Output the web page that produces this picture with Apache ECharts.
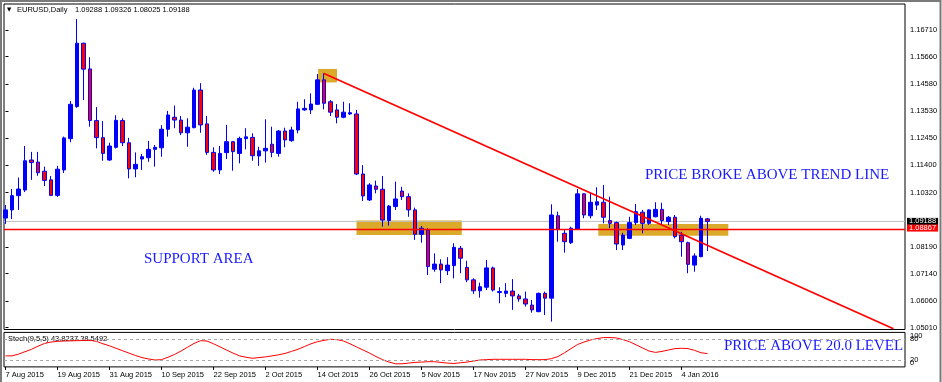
<!DOCTYPE html>
<html><head><meta charset="utf-8">
<script src="https://cdn.jsdelivr.net/npm/echarts@6/dist/echarts.min.js"></script>
<style>html,body{margin:0;padding:0;background:#fff}#c{width:942px;height:382px}</style>
</head><body><div id="c"></div>
<script>
// ---- data (EURUSD daily) ----
const opens = [1.0932,1.0964,1.1020,1.1042,1.1160,1.1152,1.1116,1.1082,1.1021,1.1121,
1.1244,1.1370,1.1619,1.1518,1.1315,1.1248,1.1160,1.1210,1.1315,1.1228,
1.1125,1.1164,1.1169,1.1202,1.1208,1.1281,1.1328,1.1317,1.1267,1.1287,
1.1435,1.1302,1.1190,1.1121,1.1189,1.1232,1.1186,1.1244,1.1249,1.1176,
1.1196,1.1222,1.1186,1.1274,1.1236,1.1278,1.1357,1.1357,1.1379,1.1475,
1.1389,1.1357,1.1328,1.1341,1.1341,1.1105,1.1003,1.1058,1.1045,1.0922,
1.0977,1.1038,1.1016,1.0964,1.0868,1.0885,1.0731,1.0751,1.0725,1.0745,
1.0813,1.0738,1.0689,1.0646,1.0660,1.0736,1.0639,1.0636,1.0645,1.0626,
1.0614,1.0590,1.0564,1.0636,1.0617,1.0941,1.0872,1.0835,1.0888,1.1027,
1.0941,1.0983,1.0994,1.0922,1.0914,1.0826,1.0852,1.0914,1.0955,1.0911,
1.0937,1.0966,1.0918,1.0935,1.0865,1.0835,1.0747,1.0780,1.09288];
const highs = [1.0983,1.1046,1.1091,1.1215,1.1192,1.1192,1.1134,1.1097,1.1137,1.1252,
1.1392,1.1714,1.1621,1.1564,1.1368,1.1313,1.1228,1.1336,1.1324,1.1247,
1.1190,1.1184,1.1235,1.1219,1.1297,1.1353,1.1374,1.1333,1.1324,1.1444,
1.1462,1.1333,1.1210,1.1215,1.1298,1.1235,1.1252,1.1285,1.1265,1.1212,
1.1320,1.1291,1.1278,1.1287,1.1291,1.1389,1.1399,1.1422,1.1498,1.1501,
1.1396,1.1380,1.1389,1.1383,1.1357,1.1140,1.1069,1.1079,1.1097,1.0983,
1.1075,1.1055,1.1029,1.0973,1.0901,1.0892,1.0793,1.0770,1.0778,1.0833,
1.0822,1.0764,1.0695,1.0678,1.0767,1.0741,1.0660,1.0676,1.0692,1.0634,
1.0643,1.0610,1.0639,1.0643,1.0986,1.0957,1.0888,1.0898,1.1046,1.1029,
1.1032,1.1053,1.1062,1.1016,1.0918,1.0874,1.0937,1.0987,1.0964,1.0966,
1.0994,1.0992,1.0940,1.0944,1.0878,1.0839,1.0793,1.0941,1.09326];
const lows = [1.0909,1.0928,1.0964,1.1034,1.1082,1.1098,1.1058,1.1019,1.1015,1.1109,
1.1230,1.1365,1.1396,1.1291,1.1206,1.1157,1.1157,1.1205,1.1215,1.1088,
1.1092,1.1121,1.1153,1.1134,1.1173,1.1252,1.1285,1.1258,1.1212,1.1285,
1.1267,1.1180,1.1114,1.1105,1.1164,1.1118,1.1147,1.1202,1.1157,1.1137,
1.1150,1.1171,1.1173,1.1210,1.1232,1.1265,1.1354,1.1341,1.1376,1.1359,
1.1333,1.1304,1.1324,1.1337,1.1101,1.0999,1.0999,1.1029,1.0898,1.0902,
1.0964,1.1003,1.0937,1.0846,1.0835,1.0708,1.0721,1.0676,1.0708,1.0695,
1.0715,1.0680,1.0634,1.0619,1.0649,1.0643,1.0597,1.0621,1.0571,1.0603,
1.0584,1.0560,1.0562,1.0551,1.0525,1.0839,1.0796,1.0830,1.0885,1.0931,
1.0931,1.0964,1.0911,1.0892,1.0806,1.0806,1.0849,1.0905,1.0872,1.0905,
1.0935,1.0905,1.0905,1.0852,1.0780,1.0715,1.0721,1.0778,1.08025];
const closes = [1.0964,1.1020,1.1046,1.1157,1.1150,1.1110,1.1080,1.1021,1.1124,1.1247,
1.1379,1.1619,1.1517,1.1315,1.1248,1.1186,1.1215,1.1316,1.1228,1.1125,
1.1143,1.1173,1.1202,1.1210,1.1281,1.1337,1.1317,1.1267,1.1289,1.1435,
1.1298,1.1190,1.1121,1.1186,1.1232,1.1193,1.1245,1.1251,1.1177,1.1196,
1.1206,1.1190,1.1274,1.1239,1.1278,1.1361,1.1363,1.1380,1.1475,1.1383,
1.1348,1.1328,1.1348,1.1346,1.1105,1.1019,1.1062,1.1045,1.0924,1.0979,
1.1007,1.1016,1.0964,1.0868,1.0892,1.0741,1.0751,1.0728,1.0747,1.0817,
1.0774,1.0689,1.0646,1.0662,1.0736,1.0649,1.0643,1.0645,1.0626,1.0614,
1.0594,1.0571,1.0636,1.0617,1.0944,1.0888,1.0839,1.0892,1.1027,1.0944,
1.0994,1.0996,1.0935,1.0911,1.0830,1.0865,1.0914,1.0957,1.0911,1.0964,
1.0966,1.0922,1.0935,1.0859,1.0839,1.0750,1.0783,1.0931,1.09188];
const stochMain = [32,32,37,44,51,60,68,72,74,75,
75.5,76,76.5,77,74,67,61,54,47,40,
33,27,23,20,21,28,36,46,57,68,
76,75,67,58,49,40,32,28,25,27,
29,32,35,39,45,51,59,67,73,77,
80,79,75,67,58,49,40,30,21,14,
9,9,11,13,14,15,15,13,11,10,
12,14,17,20,21,22,22,22,22,22,
22,21,21,21,24,30,41,53,65,72,
78,82,85,85,84,79,73,64,55,46,
42,45,49,53,54,53,48,41,38.5];
const tickIdx = [0,8,16,24,32,40,48,56,64,72,80,88,96,104];
const tickLabels = ['7 Aug 2015','19 Aug 2015','31 Aug 2015','10 Sep 2015','22 Sep 2015','2 Oct 2015',
  '14 Oct 2015','26 Oct 2015','5 Nov 2015','17 Nov 2015','27 Nov 2015','9 Dec 2015','21 Dec 2015','4 Jan 2016'];
const priceTicks = [1.16710,1.15660,1.14580,1.13530,1.12450,1.11400,1.10320,1.08190,1.07140,1.06060,1.05010];
const bidPrice = 1.09188;
const supportPrice = 1.08867;
const trendStart = [49, 1.1500];
const trendEnd = [136.6, 1.0497];
const zones = [[[48.1,1.1518],[51.0,1.1465]],[[54.0,1.0922],[70.2,1.0865]],[[91.2,1.0909],[111.2,1.0862]]];

// ---- chart ----
const FONT = "'Liberation Sans', Arial, sans-serif";
const SERIF = '15px "Liberation Serif", "Times New Roman", serif';
const X_MIN = -0.23, X_MAX = 138.38;
const Y_MIN = 1.04939, Y_MAX = 1.17732;
const candleData = opens.map((o,i)=>[i,o,closes[i],lows[i],highs[i]]);
const stochData = stochMain.map((v,i)=>[i,v]);
const small = {fontSize:7.5,fontFamily:FONT,color:'#000'};

function hLine(price, color, width, bg, z, dy){
  return {type:'line',xAxisIndex:0,yAxisIndex:0,data:[[X_MIN,price],[X_MAX,price]],symbol:'none',showSymbol:false,
    silent:true,z:z,lineStyle:{color:color,width:width},clip:false,
    endLabel:{show:true,distance:2,offset:[0,dy],formatter:price.toFixed(5),backgroundColor:bg,color:'#fff',
      fontSize:7.5,fontFamily:FONT,lineHeight:7,padding:[0,2,0,2],align:'left',verticalAlign:'middle'}};
}

const chart = echarts.init(document.getElementById('c'), null, {renderer:'canvas'});
chart.setOption({
  animation:false,
  backgroundColor:'#fff',
  grid:[
    {left:4,right:37,top:4,height:325.5,show:true,borderColor:'#000',borderWidth:1,backgroundColor:'rgba(0,0,0,0)'},
    {left:4,right:37,top:332.4,height:34.5,show:true,borderColor:'#000',borderWidth:1,backgroundColor:'rgba(0,0,0,0)'}
  ],
  xAxis:[
    {type:'value',gridIndex:0,min:X_MIN,max:X_MAX,show:false},
    {type:'value',gridIndex:1,min:X_MIN,max:X_MAX,splitLine:{show:false},axisLine:{show:false},
      axisTick:{show:true,customValues:tickIdx,length:3,lineStyle:{color:'#000'}},
      axisLabel:Object.assign({customValues:tickIdx,formatter:v=>tickLabels[tickIdx.indexOf(v)]||'',align:'left',margin:4},small)}
  ],
  yAxis:[
    {type:'value',gridIndex:0,position:'right',min:Y_MIN,max:Y_MAX,splitLine:{show:false},axisLine:{show:false},
      axisTick:{show:true,customValues:priceTicks,length:3,lineStyle:{color:'#000'}},
      axisLabel:Object.assign({customValues:priceTicks,formatter:v=>v.toFixed(5),margin:5},small)},
    {type:'value',gridIndex:1,position:'right',min:0,max:100,splitLine:{show:false},axisLine:{show:false},axisTick:{show:false},
      axisLabel:Object.assign({customValues:[80,20],margin:5},small)},
    {type:'value',gridIndex:1,position:'right',min:0,max:100,splitLine:{show:false},axisLine:{show:false},axisTick:{show:false},
      axisLabel:Object.assign({customValues:[100],margin:5,verticalAlign:'top'},small)},
    {type:'value',gridIndex:1,position:'right',min:0,max:100,splitLine:{show:false},axisLine:{show:false},axisTick:{show:false},
      axisLabel:Object.assign({customValues:[0],margin:5,verticalAlign:'bottom'},small)}
  ],
  series:[
    hLine(bidPrice,'#c0c0c0',1,'#000',1,0),
    {type:'candlestick',xAxisIndex:0,yAxisIndex:0,data:candleData,barWidth:3.6,clip:true,z:2,
      itemStyle:{color:'#0000ff',color0:'#ff0000',borderColor:'#0000ff',borderColor0:'#0000ff',borderWidth:1},
      markArea:{silent:true,itemStyle:{color:'#DAA520',opacity:0.95},
        data:zones.map(z=>[{coord:z[0]},{coord:z[1]}])},
      markLine:{symbol:'none',silent:true,label:{show:false},
        data:[
          [{coord:trendStart,lineStyle:{color:'#ff0000',width:1.8,type:'solid'},label:{show:false}},{coord:trendEnd}]
        ]}
    },
    hLine(supportPrice,'#ff0000',1.6,'#ff0000',4,-1.5),
    {type:'line',xAxisIndex:1,yAxisIndex:1,data:stochData,showSymbol:false,symbol:'none',
      lineStyle:{color:'#ff0000',width:1},
      markLine:{symbol:'none',silent:true,label:{show:false},
        lineStyle:{color:'#a8a8a8',type:[3,3],width:1},
        data:[{yAxis:80},{yAxis:20}]}}
  ],
  graphic:[
    {type:'polyline',silent:true,shape:{points:[[1,382],[1,1],[940.5,1],[940.5,382]]},style:{stroke:'#7a7a7a',lineWidth:2,fill:null}},
    {type:'text',silent:true,style:{text:'\u25BC',x:7,y:10,font:'5.5px "DejaVu Sans"',fill:'#000',verticalAlign:'middle'}},
    {type:'text',silent:true,style:{text:'EURUSD,Daily',x:17,y:9.5,font:'7.5px '+FONT,fill:'#000',verticalAlign:'middle'}},
    {type:'text',silent:true,style:{text:'1.09288 1.09326 1.08025 1.09188',x:75,y:9.5,font:'7.5px '+FONT,fill:'#000',verticalAlign:'middle'}},
    {type:'text',silent:true,style:{text:'Stoch(9,5,5) 43.8237 38.5492',x:8,y:338.5,font:'7.5px '+FONT,fill:'#000',verticalAlign:'middle'}},
    {type:'text',silent:true,style:{text:'PRICE BROKE ABOVE TREND LINE',x:645,y:175,font:SERIF,fill:'#1a1aff',verticalAlign:'middle'}},
    {type:'text',silent:true,style:{text:'SUPPORT AREA',x:144,y:259.5,font:SERIF,fill:'#1a1aff',verticalAlign:'middle'}},
    {type:'text',silent:true,style:{text:'PRICE ABOVE 20.0 LEVEL',x:724,y:346,font:SERIF,fill:'#1a1aff',verticalAlign:'middle'}}
  ]
});
</script></body></html>
